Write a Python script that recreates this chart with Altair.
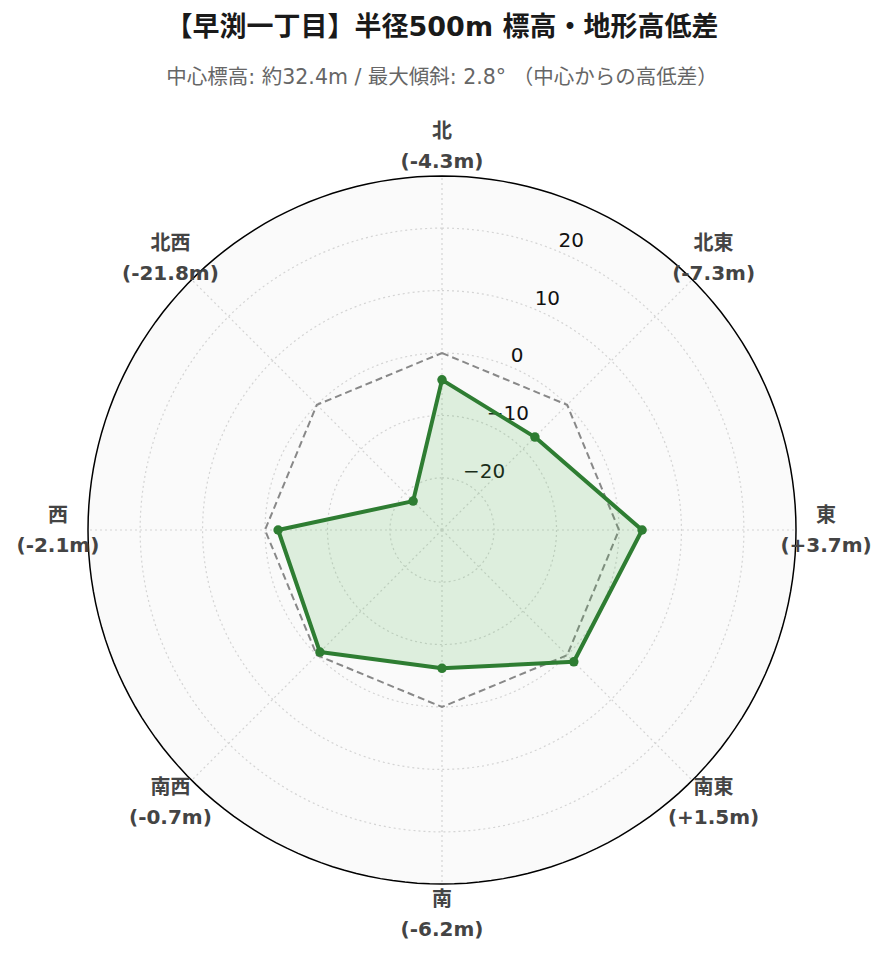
import altair as alt
import pandas as pd

# ---- data ----
directions = ["北", "北東", "東", "南東", "南", "南西", "西", "北西"]
angles_deg = [0, 45, 90, 135, 180, 225, 270, 315]
diffs = [-4.3, -7.3, 3.7, 1.5, -6.2, -0.7, -2.1, -21.8]
reference = [0, 0, 0, 0, 0, 0, 0, 0]
radial_ticks = [-20, -10, 0, 10, 20]
title_text = "【早渕一丁目】半径500m 標高・地形高低差"
subtitle_text = "中心標高: 約32.4m / 最大傾斜: 2.8° （中心からの高低差）"

RMIN = -28.34   # radial axis minimum (centre)
RMAX = 28.34    # radial axis maximum (outer ring)
SPAN = RMAX - RMIN
LABEL_R = SPAN * 1.085   # where the direction labels sit
TICK_ANGLE = 22.5

FONT = "DejaVu Sans, Noto Sans CJK JP"

labels = [f"{d}\n({v:+.1f}m)" for d, v in zip(directions, diffs)]
df = pd.DataFrame({
    "idx": list(range(len(directions))),
    "dir": directions,
    "ang": angles_deg,
    "val": diffs,
    "ref": reference,
    "label": labels,
})

xs = alt.Scale(domain=[-SPAN, SPAN], nice=False, zero=False)
ys = alt.Scale(domain=[-SPAN, SPAN], nice=False, zero=False)
X = lambda f: alt.X(f, type="quantitative", scale=xs, axis=None)
Y = lambda f: alt.Y(f, type="quantitative", scale=ys, axis=None)

base = alt.Chart(df)

# background disc + outer ring
ring = alt.Chart(alt.Data(values=[{"level": RMAX}])).transform_calculate(
    deg="sequence(0, 360, 2)"
).transform_flatten(["deg"]).transform_calculate(
    rr=f"datum.level - ({RMIN})",
).transform_calculate(
    px="datum.rr * sin(datum.deg * PI / 180)",
    py="datum.rr * cos(datum.deg * PI / 180)",
)
bg = ring.mark_line(interpolate="linear-closed", fill="#fafafa", stroke="black",
                    strokeWidth=1.5).encode(x=X("px"), y=Y("py"), order="deg:Q")

# dotted grid circles
grid = alt.Chart(alt.Data(values=[{"level": t} for t in radial_ticks])).transform_calculate(
    deg="sequence(0, 360, 2)"
).transform_flatten(["deg"]).transform_calculate(
    rr=f"datum.level - ({RMIN})",
).transform_calculate(
    px="datum.rr * sin(datum.deg * PI / 180)",
    py="datum.rr * cos(datum.deg * PI / 180)",
).mark_line(interpolate="linear-closed", stroke="#d4d4d4", strokeWidth=1.2,
            strokeDash=[2, 3]).encode(x=X("px"), y=Y("py"), detail="level:N", order="deg:Q")

# spokes
spokes = base.transform_calculate(
    x0="0", y0="0",
    x1=f"{SPAN} * sin(datum.ang * PI / 180)",
    y1=f"{SPAN} * cos(datum.ang * PI / 180)",
).mark_rule(stroke="#d4d4d4", strokeWidth=1.2, strokeDash=[2, 3]).encode(
    x=X("x0"), y=Y("y0"), x2="x1:Q", y2="y1:Q")

# radial tick labels
ticks = alt.Chart(alt.Data(values=[{"t": t} for t in radial_ticks])).transform_calculate(
    rr=f"datum.t - ({RMIN})",
).transform_calculate(
    px=f"datum.rr * sin({TICK_ANGLE} * PI / 180)",
    py=f"datum.rr * cos({TICK_ANGLE} * PI / 180)",
).mark_text(align="left", baseline="middle", dx=1, dy=-10, fontSize=20,
            font="DejaVu Sans", color="#111").encode(
    x=X("px"), y=Y("py"), text=alt.Text("t:Q", format="d"))

# reference (0 m) dashed polygon
ref = base.transform_calculate(
    rr=f"datum.ref - ({RMIN})",
).transform_calculate(
    px="datum.rr * sin(datum.ang * PI / 180)",
    py="datum.rr * cos(datum.ang * PI / 180)",
).mark_line(interpolate="linear-closed", stroke="#888888", strokeWidth=2,
            strokeDash=[7, 4]).encode(x=X("px"), y=Y("py"), order="idx:Q")

dat = base.transform_calculate(
    rr=f"datum.val - ({RMIN})",
).transform_calculate(
    px="datum.rr * sin(datum.ang * PI / 180)",
    py="datum.rr * cos(datum.ang * PI / 180)",
)
area = dat.mark_line(interpolate="linear-closed", stroke="#2e7d32", strokeWidth=4,
                     fill="#4caf50", fillOpacity=0.17, strokeJoin="round").encode(
    x=X("px"), y=Y("py"), order="idx:Q")
pts = dat.mark_circle(size=90, color="#2e7d32", opacity=1).encode(x=X("px"), y=Y("py"))

# direction labels
dlab = base.transform_calculate(
    px=f"{LABEL_R} * sin(datum.ang * PI / 180)",
    py=f"{LABEL_R} * cos(datum.ang * PI / 180)",
).mark_text(align="center", baseline="middle", dy=-14, fontSize=20, fontWeight="bold",
            font=FONT, color="#444444", lineBreak="\n", lineHeight=30).encode(
    x=X("px"), y=Y("py"), text="label:N")

chart = alt.layer(bg, grid, spokes, ticks, ref, area, pts, dlab).properties(
    width=708, height=708,
    autosize=alt.AutoSizeParams(type="none"),
    padding={"left": 80, "top": 168, "right": 80, "bottom": 64},
    title=alt.TitleParams(
        text=title_text, subtitle=subtitle_text, anchor="middle",
        font=FONT, fontSize=27, fontWeight="bold", color="#1a1a1a",
        subtitleFont=FONT, subtitleFontSize=20.5, subtitleColor="#666666",
        subtitlePadding=26, offset=32,
    ),
).configure_view(stroke=None)

chart.save("out.html", embed_options={"renderer": "svg", "actions": False})
